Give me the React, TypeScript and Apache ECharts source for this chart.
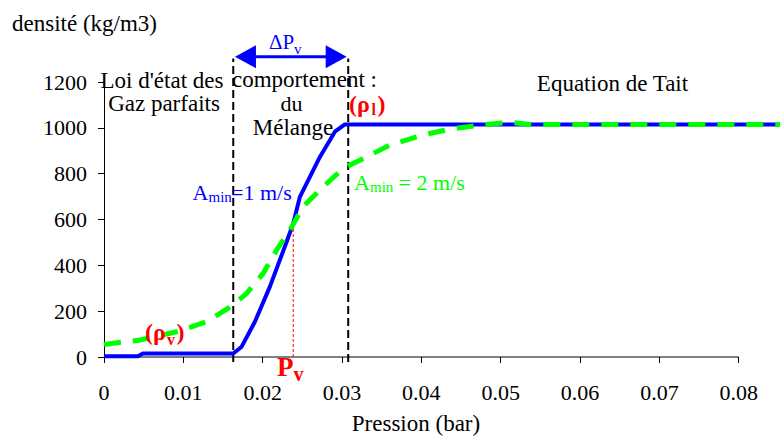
import React, { useEffect, useRef } from "react";
import * as echarts from "echarts";

// ---- data ----
// Pression (bar) vs densité (kg/m3)
const blueCurve: [number, number][] = [
  [0, 3], [0.00428, 3], [0.00491, 15], [0.01629, 15], [0.01735, 45],
  [0.01902, 154], [0.02091, 307], [0.02302, 503], [0.02385, 583],
  [0.02469, 699], [0.02721, 873], [0.02847, 946], [0.0291, 983],
  [0.03036, 1015], [0.086, 1015],
];
const greenCurve: [number, number][] = [
  [0, 55], [0.00454, 74], [0.00916, 110], [0.01294, 154], [0.01629, 227],
  [0.01798, 278], [0.02007, 365], [0.02176, 467], [0.02343, 554],
  [0.02511, 656], [0.02763, 743], [0.03015, 823], [0.03225, 859],
  [0.03603, 925], [0.04019, 969], [0.04359, 994], [0.04737, 1012],
  [0.05115, 1024], [0.05367, 1015], [0.086, 1015],
];
const xTickValues = [0, 0.01, 0.02, 0.03, 0.04, 0.05, 0.06, 0.07, 0.08];
const xTickLabels = ["0", "0.01", "0.02", "0.03", "0.04", "0.05", "0.06", "0.07", "0.08"];
const yTickValues = [0, 200, 400, 600, 800, 1000, 1200];
const xView = [0, 0.0852]; // the curves run past the last tick, to the right edge
const mixingBounds = [0.01629, 0.03078]; // limits of ΔPv
const boundYRange = [-22, 1303];
const pv = 0.02385;
const rhoAtPv = 585;
const arrowLevel = 1310;
const arrowEnds = [0.01783, 0.02926];

const FF = "'Liberation Serif', 'Times New Roman', serif";

type T = {
  t: string; x: number; y: number; fs: number; c?: string; a?: string; b?: boolean;
};
const texts: T[] = [
  { t: "densité (kg/m3)", x: 12, y: 23.4, fs: 23 },
  { t: "Loi d'état des", x: 162, y: 80.2, fs: 23, a: "center" },
  { t: "Gaz parfaits", x: 164, y: 103.8, fs: 23, a: "center" },
  { t: "comportement :", x: 232, y: 79.6, fs: 23 },
  { t: "du", x: 291.5, y: 103.6, fs: 22, a: "center" },
  { t: "Mélange", x: 293, y: 127.6, fs: 23, a: "center" },
  { t: "Equation de Tait", x: 612.5, y: 83.4, fs: 23, a: "center" },
  { t: "Pression (bar)", x: 416, y: 423, fs: 23, a: "center" },
  { t: "ΔP", x: 269, y: 41.9, fs: 21, c: "#0000ff" },
  { t: "v", x: 294, y: 48.9, fs: 15, c: "#0000ff" },
  { t: "A", x: 192.5, y: 192.6, fs: 22, c: "#0000ff" },
  { t: "min", x: 208.5, y: 197.4, fs: 15, c: "#0000ff" },
  { t: "=1 m/s", x: 231, y: 192.6, fs: 22, c: "#0000ff" },
  { t: "A", x: 354, y: 182.6, fs: 22, c: "#00ff00" },
  { t: "min", x: 370, y: 187.4, fs: 15, c: "#00ff00" },
  { t: "= 2 m/s", x: 398.5, y: 182.6, fs: 22, c: "#00ff00" },
  { t: "(ρ", x: 349, y: 103.5, fs: 24, c: "#ff0000", b: true },
  { t: "l", x: 371.5, y: 109.2, fs: 16, c: "#ff0000", b: true },
  { t: ")", x: 377.5, y: 103.5, fs: 24, c: "#ff0000", b: true },
  { t: "(ρ", x: 145, y: 331.9, fs: 24, c: "#ff0000", b: true },
  { t: "v", x: 167, y: 339.1, fs: 16, c: "#ff0000", b: true },
  { t: ")", x: 176.5, y: 331.9, fs: 24, c: "#ff0000", b: true },
  { t: "P", x: 277, y: 366.9, fs: 27, c: "#ff0000", b: true },
  { t: "v", x: 293.5, y: 374.3, fs: 20, c: "#ff0000", b: true },
];

export default function App() {
  const ref = useRef<HTMLDivElement>(null);
  useEffect(() => {
    if (!ref.current) return;
    const chart = echarts.init(ref.current, undefined, { renderer: "svg" });
    const boundSeries = mixingBounds.map((x) => ({
      type: "line",
      data: [[x, boundYRange[0]], [x, boundYRange[1]]],
      symbol: "none",
      clip: false,
      silent: true,
      z: 2,
      lineStyle: { color: "#000", width: 2, type: [8, 4] },
    }));
    chart.setOption({
      animation: false,
      backgroundColor: "#fff",
      grid: { left: 104, right: 0, top: 82, bottom: 79, containLabel: false, outerBoundsMode: "none" },
      xAxis: {
        type: "value",
        min: xView[0],
        max: xView[1],
        axisLine: { show: false },
        axisTick: {
          show: true, length: 6, customValues: xTickValues,
          lineStyle: { color: "#000", width: 1 },
        },
        axisLabel: {
          customValues: xTickValues,
          fontFamily: FF, fontSize: 22, color: "#000", margin: 24,
          formatter: (v: number) => xTickLabels[xTickValues.findIndex((t) => Math.abs(t - v) < 1e-9)] ?? String(v),
        },
        splitLine: { show: false },
      },
      yAxis: {
        type: "value",
        min: yTickValues[0],
        max: yTickValues[yTickValues.length - 1],
        interval: 200,
        axisLine: { show: true, onZero: false, lineStyle: { color: "#000", width: 1 } },
        axisTick: { show: true, length: 6, lineStyle: { color: "#000", width: 1 } },
        axisLabel: {
          fontFamily: FF, fontSize: 22, color: "#000", margin: 17,
          formatter: (v: number) => String(v),
        },
        splitLine: { show: false },
      },
      series: [
        {
          // x axis baseline, from the first to the last tick
          type: "line",
          data: [[xTickValues[0], 0], [xTickValues[xTickValues.length - 1], 0]],
          symbol: "none",
          clip: false,
          silent: true,
          z: 1,
          lineStyle: { color: "#000", width: 1 },
        },
        ...boundSeries,
        {
          type: "line",
          data: [[pv, 0], [pv, rhoAtPv]],
          symbol: "none",
          clip: false,
          silent: true,
          z: 2,
          lineStyle: { color: "#ff0000", width: 1, type: [3, 2] },
        },
        {
          type: "line",
          data: blueCurve,
          symbol: "none",
          clip: false,
          silent: true,
          z: 3,
          lineStyle: { color: "#0000ff", width: 4 },
        },
        {
          type: "line",
          data: greenCurve,
          symbol: "none",
          clip: false,
          silent: true,
          z: 4,
          lineStyle: { color: "#00ff00", width: 5, type: [17, 12] },
        },
        {
          type: "line",
          data: [
            { value: [arrowEnds[0], arrowLevel], symbolRotate: 90 },
            { value: [arrowEnds[1], arrowLevel], symbolRotate: -90 },
          ],
          symbol: "triangle",
          symbolSize: [23, 21],
          showSymbol: true,
          showAllSymbol: true,
          clip: false,
          silent: true,
          z: 5,
          itemStyle: { color: "#0000ff", borderWidth: 0 },
          lineStyle: { color: "#0000ff", width: 3 },
        },
      ],
      graphic: texts.map((d) => ({
        type: "text",
        silent: true,
        z: 10,
        style: {
          text: d.t,
          x: d.x,
          y: d.y,
          fill: d.c || "#000",
          fontFamily: FF,
          fontSize: d.fs,
          fontWeight: d.b ? "bold" : "normal",
          align: d.a || "left",
          textAlign: d.a || "left",
          verticalAlign: "middle",
          textVerticalAlign: "middle",
        },
      })),
    });
    return () => chart.dispose();
  }, []);
  return (
    <div
      ref={ref}
      style={{ position: "fixed", left: 0, top: 0, width: 780, height: 436, background: "#fff" }}
    />
  );
}
